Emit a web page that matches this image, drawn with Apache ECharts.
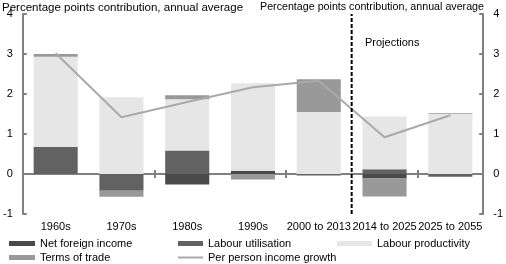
<!DOCTYPE html>
<html><head><meta charset="utf-8">
<style>html,body{margin:0;padding:0;background:#fff}#c{width:506px;height:264px}</style>
<script src="https://cdn.jsdelivr.net/npm/echarts@6/dist/echarts.min.js"></script>
</head><body><div id="c"></div>
<script>
var categories = ['1960s','1970s','1980s','1990s','2000 to 2013','2014 to 2025','2025 to 2055'];
var netForeignIncome = [0, 0, -0.26, 0.08, 0, -0.11, 0];
var labourUtilisation = [0.68, -0.42, 0.59, 0, -0.04, 0.12, -0.07];
var labourProductivity = [2.25, 1.92, 1.28, 2.19, 1.55, 1.32, 1.5];
var termsOfTrade = [0.07, -0.15, 0.1, -0.14, 0.82, -0.45, 0.02];
var incomeGrowth = [3.02, 1.42, 1.8, 2.17, 2.33, 0.92, 1.47];
var yTicks = [-1, 0, 1, 2, 3, 4];
var projectionStart = 5; // boundary index between 2000 to 2013 and 2014 to 2025

var font = 'Liberation Sans, Arial, sans-serif';
var chart = echarts.init(document.getElementById('c'));
var axisGray = '#808080';
function yAx(pos){
  return {type:'value', position:pos, min:yTicks[0], max:yTicks[yTicks.length-1], interval:1,
    splitLine:{show:false},
    axisLine:{show:true, lineStyle:{color:axisGray, width:2}},
    axisTick:{show:true, inside:true, length:4, lineStyle:{color:axisGray, width:2}},
    axisLabel:{color:'#000', fontSize:11, fontFamily:font, margin:10}};
}
function legendItem(name, left, top, w, h){
  return {data:[name], left:left, top:top, itemWidth:w, itemHeight:h, icon:'rect', padding:0,
    selectedMode:false, textStyle:{color:'#000', fontSize:11, fontFamily:font}};
}
chart.setOption({
  animation:false,
  title:[
    {text:'Percentage points contribution, annual average', left:2, top:2, padding:0,
      textStyle:{fontSize:11.5, fontWeight:'normal', color:'#000', fontFamily:font}},
    {text:'Percentage points contribution, annual average', left:260, top:2, padding:0,
      textStyle:{fontSize:10.7, fontWeight:'normal', color:'#000', fontFamily:font}},
    {text:'Projections', left:365, top:37, padding:0,
      textStyle:{fontSize:11, fontWeight:'normal', color:'#000', fontFamily:font}}
  ],
  legend:[
    legendItem('Net foreign income', 9, 238, 26, 5),
    legendItem('Labour utilisation', 178, 238, 25, 5),
    legendItem('Labour productivity', 337, 238, 35, 5),
    legendItem('Terms of trade', 9, 252, 26, 5),
    legendItem('Per person income growth', 178, 252, 25, 2)
  ],
  grid:{left:21, right:22, top:14, bottom:50},
  xAxis:[
    {type:'category', data:categories, position:'bottom', axisLine:{show:false, onZero:false},
      axisTick:{show:false}, axisLabel:{color:'#000', fontSize:11, fontFamily:font, margin:7, interval:0}},
    {type:'category', data:categories, axisLine:{show:true, onZero:true, lineStyle:{color:axisGray, width:2}},
      axisTick:{show:true, length:4, lineStyle:{color:axisGray, width:2}}, axisLabel:{show:false}},
    {type:'category', data:categories, axisLine:{show:false, onZero:true},
      axisTick:{show:true, inside:true, length:4, lineStyle:{color:axisGray, width:2}}, axisLabel:{show:false}},
    {type:'value', min:0, max:categories.length, show:false}
  ],
  yAxis:[yAx('left'), yAx('right')],
  series:[
    {name:'Net foreign income', type:'bar', stack:'s', data:netForeignIncome, barCategoryGap:'33%',
      itemStyle:{color:'#4a4a4a'}},
    {name:'Labour utilisation', type:'bar', stack:'s', data:labourUtilisation, itemStyle:{color:'#626262'}},
    {name:'Labour productivity', type:'bar', stack:'s', data:labourProductivity, itemStyle:{color:'#e6e6e6'}},
    {name:'Terms of trade', type:'bar', stack:'s', data:termsOfTrade, itemStyle:{color:'#999999'}},
    {name:'Per person income growth', type:'line', data:incomeGrowth, showSymbol:false, symbol:'none',
      itemStyle:{color:'#aaaaaa'}, lineStyle:{color:'#aaaaaa', width:2}, z:5},
    {name:'projection', type:'line', xAxisIndex:3,
      data:[[projectionStart, yTicks[0]], [projectionStart, yTicks[yTicks.length-1]]],
      symbol:'none', lineStyle:{color:'#000', width:2, type:[4,2]}, z:6}
  ]
});
</script></body></html>
